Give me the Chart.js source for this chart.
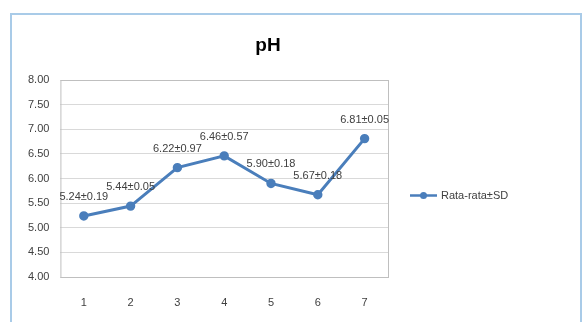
<!DOCTYPE html>
<html lang="en">
<head>
    <meta charset="UTF-8">
    <title>pH</title>
    <style>
        body { margin: 0; background: #fff; }
        #frame {
            position: absolute;
            left: 10px;
            top: 13px;
            width: 568px;
            height: 330px;
            border: 2px solid #a9cbe8;
            background: #fff;
        }
        #chartBox {
            position: absolute;
            left: 0;
            top: 0;
            width: 536px;
            height: 322px;
        }
    </style>
    <script src="https://cdn.jsdelivr.net/npm/chart.js"></script>
</head>
<body>
    <div id="frame"></div>
    <div id="chartBox"><canvas id="phChart"></canvas></div>

    <script>
        const categories = ['1', '2', '3', '4', '5', '6', '7'];
        const phMeans = [5.24, 5.44, 6.22, 6.46, 5.90, 5.67, 6.81];
        const phLabels = ['5.24±0.19', '5.44±0.05', '6.22±0.97', '6.46±0.57', '5.90±0.18', '5.67±0.18', '6.81±0.05'];
        const yTicks = [4, 4.5, 5, 5.5, 6, 6.5, 7, 7.5, 8];
        const seriesName = 'Rata-rata±SD';
        const chartTitle = 'pH';

        const lineColor = '#4a7ebb';
        const textColor = '#404040';
        const fontFamily = '"Liberation Sans", Arial, sans-serif';

        // plot area border, Excel style
        const plotFrame = {
            id: 'plotFrame',
            beforeDatasetsDraw(chart) {
                const a = chart.chartArea;
                const ctx = chart.ctx;
                ctx.save();
                ctx.strokeStyle = '#bfbfbf';
                ctx.lineWidth = 1;
                ctx.strokeRect(a.left + 0.5, a.top + 0.5, a.right - a.left, a.bottom - a.top);
                ctx.restore();
            }
        };

        // value labels above points + title + legend
        const decorations = {
            id: 'decorations',
            afterDatasetsDraw(chart) {
                const ctx = chart.ctx;
                const a = chart.chartArea;
                const meta = chart.getDatasetMeta(0);
                ctx.save();
                ctx.font = '11px ' + fontFamily;
                ctx.fillStyle = textColor;
                ctx.textAlign = 'center';
                ctx.textBaseline = 'middle';
                meta.data.forEach((pt, i) => {
                    ctx.fillText(phLabels[i], pt.x, pt.y - 19);
                });

                // title
                ctx.font = 'bold 19px ' + fontFamily;
                ctx.fillStyle = '#000';
                ctx.fillText(chartTitle, chart.width / 2, a.top - 34);

                // legend
                const lx = a.right + 22;
                const ly = (a.top + a.bottom) / 2 + 17;
                ctx.strokeStyle = lineColor;
                ctx.lineWidth = 2.5;
                ctx.beginPath();
                ctx.moveTo(lx, ly);
                ctx.lineTo(lx + 27, ly);
                ctx.stroke();
                ctx.fillStyle = lineColor;
                ctx.beginPath();
                ctx.arc(lx + 13.5, ly, 3.5, 0, Math.PI * 2);
                ctx.fill();
                ctx.font = '11px ' + fontFamily;
                ctx.fillStyle = textColor;
                ctx.textAlign = 'left';
                ctx.fillText(seriesName, lx + 31, ly);
                ctx.restore();
            }
        };

        const ctx = document.getElementById('phChart').getContext('2d');
        new Chart(ctx, {
            type: 'line',
            data: {
                labels: categories,
                datasets: [{
                    label: seriesName,
                    data: phMeans,
                    borderColor: lineColor,
                    backgroundColor: lineColor,
                    borderWidth: 3,
                    pointRadius: 3.2,
                    pointHoverRadius: 3.2,
                    pointStyle: 'circle',
                    tension: 0
                }]
            },
            options: {
                responsive: true,
                maintainAspectRatio: false,
                animation: false,
                layout: {
                    padding: { top: 80, left: 17, right: 148, bottom: 0 }
                },
                plugins: {
                    title: { display: false },
                    legend: { display: false },
                    tooltip: { enabled: false }
                },
                scales: {
                    x: {
                        offset: true,
                        grid: { display: false, drawTicks: false },
                        border: { display: false },
                        ticks: {
                            color: textColor,
                            font: { family: fontFamily, size: 11 },
                            padding: 19
                        },
                        afterFit(axis) {
                            axis.height = 45;
                        }
                    },
                    y: {
                        min: 4,
                        max: 8,
                        afterBuildTicks(axis) {
                            axis.ticks = yTicks.map(v => ({ value: v }));
                        },
                        grid: { color: '#d9d9d9', drawTicks: false },
                        border: { display: false },
                        ticks: {
                            color: textColor,
                            font: { family: fontFamily, size: 11 },
                            padding: 11,
                            callback: v => Number(v).toFixed(2)
                        }
                    }
                }
            },
            plugins: [plotFrame, decorations]
        });
    </script>
</body>
</html>
